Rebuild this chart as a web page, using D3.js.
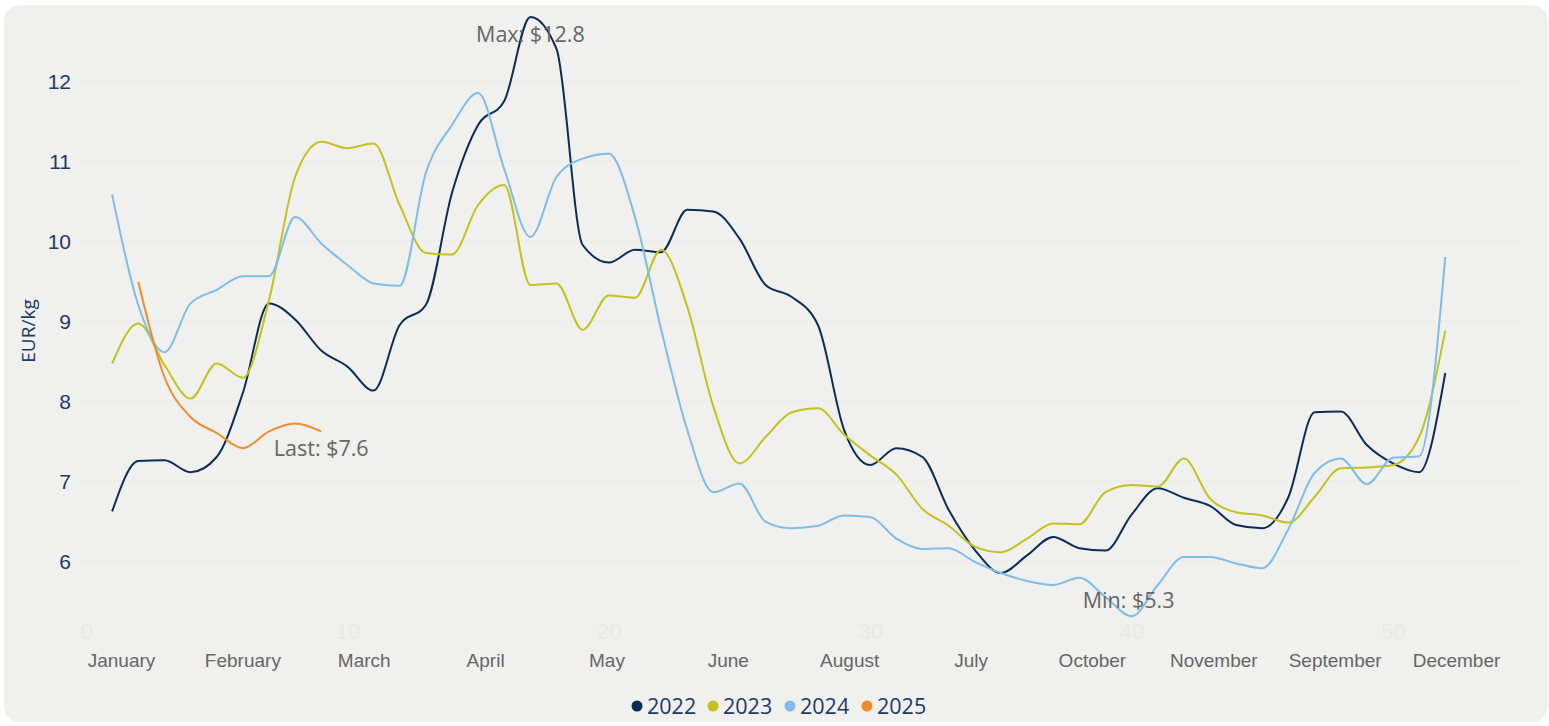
<!DOCTYPE html>
<html>
<head>
<meta charset="utf-8">
<script src="https://cdn.jsdelivr.net/npm/d3@7"></script>
<style>
html,body{margin:0;padding:0;background:#ffffff;}
svg{display:block;font-family:"Open Sans","Noto Sans",sans-serif;}
</style>
</head>
<body>
<svg id="chart" width="1549" height="726"></svg>
<script>
// ---- data ----
const weeks = d3.range(1, 53);
const weekTicks = [0, 10, 20, 30, 40, 50];
const monthLabels = ["January","February","March","April","May","June","August","July","October","November","September","December"];
const yTicks = [6, 7, 8, 9, 10, 11, 12];
const years = ["2022","2023","2024","2025"];
const colors = ["#0b2d55","#c3c31f","#7fbde8","#f08c28"];

const v2022 = [6.62,7.25,7.26,7.11,7.3,8.1,9.22,9.02,8.63,8.43,8.13,8.95,9.2,10.6,11.45,11.75,12.8,12.4,9.95,9.73,9.89,9.86,10.39,10.37,10.03,9.45,9.3,8.95,7.64,7.2,7.41,7.3,6.64,6.14,5.85,6.07,6.3,6.16,6.13,6.58,6.91,6.79,6.69,6.45,6.41,6.8,7.86,7.87,7.45,7.22,7.11,8.35];
const v2023 = [8.47,8.97,8.45,8.03,8.47,8.29,9.26,10.8,11.24,11.16,11.22,10.45,9.85,9.83,10.45,10.7,9.45,9.47,8.89,9.32,9.29,9.89,9.18,7.93,7.22,7.55,7.86,7.91,7.58,7.32,7.08,6.65,6.44,6.18,6.11,6.28,6.47,6.46,6.86,6.95,6.93,7.28,6.78,6.61,6.57,6.48,6.8,7.16,7.17,7.2,7.55,8.88];
const v2024 = [10.58,9.2,8.61,9.22,9.39,9.56,9.56,10.3,9.97,9.7,9.47,9.44,10.85,11.45,11.85,10.9,10.05,10.8,11.03,11.09,10.3,8.9,7.64,6.86,6.97,6.49,6.41,6.44,6.57,6.55,6.28,6.15,6.16,5.99,5.85,5.75,5.7,5.79,5.55,5.31,5.7,6.05,6.05,5.97,5.91,6.4,7.1,7.28,6.96,7.29,7.31,9.8];
const weeks2025 = [2,3,4,5,6,7,8,9];
const v2025 = [9.49,8.3,7.8,7.6,7.41,7.62,7.72,7.62];

const seriesWeeks = [weeks, weeks, weeks, weeks2025];
const seriesValues = [v2022, v2023, v2024, v2025];

// ---- layout ----
const svg = d3.select("#chart");

svg.append("rect").attr("x",4).attr("y",5).attr("width",1544).attr("height",717)
  .attr("rx",16).attr("ry",16).attr("fill","#f0f0ee");

const x = d3.scaleLinear().domain([0, 52]).range([86, 86 + 52*26.14]);
const y = d3.scaleLinear().domain([6, 12]).range([561, 81]);
const xm = d3.scalePoint().domain(monthLabels).range([121, 1456]);

// gridlines
const grid = svg.append("g");
grid.selectAll("line").data(yTicks).join("line")
  .attr("x1",78).attr("x2",1522)
  .attr("y1",d=>y(d)).attr("y2",d=>y(d))
  .attr("stroke","#dadad8").attr("stroke-width",1).attr("stroke-dasharray","1,3");

// faint week axis
const weekAxis = svg.append("g").attr("transform","translate(0,631)")
  .call(d3.axisBottom(x).tickValues(weekTicks).tickSize(0).tickFormat(d3.format("d")));
weekAxis.select(".domain").remove();
weekAxis.selectAll("text").attr("fill","#e9e9e7").attr("font-size",22).attr("dy","0.35em").attr("y",0);

// month labels axis
const monthAxis = svg.append("g").attr("transform","translate(0,660)")
  .call(d3.axisBottom(xm).tickSize(0));
monthAxis.select(".domain").remove();
monthAxis.selectAll("text").attr("fill","#666666").attr("font-size",19).attr("y",0).attr("dy","0.35em");

// y axis
const yAxis = svg.append("g").attr("transform","translate(74,0)")
  .call(d3.axisLeft(y).tickValues(yTicks).tickSize(0).tickFormat(d3.format("d")));
yAxis.select(".domain").remove();
yAxis.selectAll("text").attr("fill","#1c3a63").attr("font-size",21).attr("dy","0.35em");

svg.append("text").attr("transform","translate(28,331) rotate(-90)")
  .attr("text-anchor","middle").attr("dy","0.35em").attr("fill","#1c3a63").attr("font-size",19).text("EUR/kg");

// lines
const line = d3.line().curve(d3.curveMonotoneX).x(d=>x(d[0])).y(d=>y(d[1]));
years.forEach((yr,i)=>{
  const pts = seriesWeeks[i].map((w,j)=>[w, seriesValues[i][j]]);
  svg.append("path").datum(pts).attr("d",line)
    .attr("fill","none").attr("stroke",colors[i]).attr("stroke-width",2);
});

// annotations
const all = [];
seriesValues.slice(0,3).forEach((vals,i)=>vals.forEach((v,j)=>all.push([seriesWeeks[i][j], v])));
const maxP = all.reduce((a,b)=>b[1]>a[1]?b:a);
const minP = all.reduce((a,b)=>b[1]<a[1]?b:a);
const lastP = [weeks2025[weeks2025.length-1], v2025[v2025.length-1]];
const ann = svg.append("g").attr("fill","#666666").attr("font-size",21.5).attr("text-anchor","middle");
ann.append("text").attr("x",x(maxP[0])).attr("y",y(maxP[1])+17).attr("dy","0.35em").text("Max: $" + maxP[1].toFixed(1));
ann.append("text").attr("x",x(minP[0])-3).attr("y",y(minP[1])-16).attr("dy","0.35em").text("Min: $" + minP[1].toFixed(1));
ann.append("text").attr("x",x(lastP[0])).attr("y",y(lastP[1])+17).attr("dy","0.35em").text("Last: $" + lastP[1].toFixed(1));

// legend
const legendX = [637, 713, 790, 867];
const lg = svg.append("g");
years.forEach((yr,i)=>{
  lg.append("circle").attr("cx",legendX[i]).attr("cy",706).attr("r",5.5).attr("fill",colors[i]);
  lg.append("text").attr("x",legendX[i]+10).attr("y",706).attr("dy","0.35em")
    .attr("fill","#1c3a63").attr("font-size",21.5).text(yr);
});
</script>
</body>
</html>
